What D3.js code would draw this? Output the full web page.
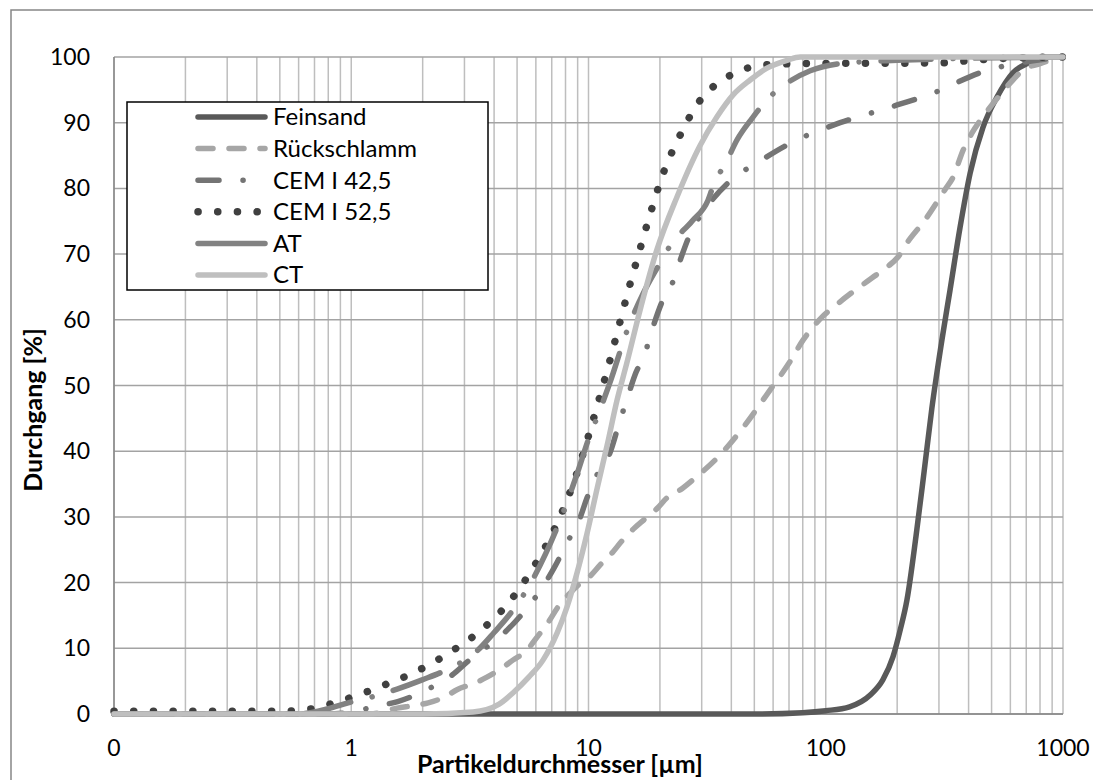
<!DOCTYPE html>
<html><head><meta charset="utf-8">
<script src="https://cdn.jsdelivr.net/npm/d3@7"></script>
<style>body{margin:0;background:#fff;} svg{display:block;} text{font-family:Lato,"Open Sans",sans-serif;}</style>
</head><body>
<svg id="chart" width="1093" height="780"></svg>
<script>
// ---- data (particle size in µm, passing in %) ----
const feinsandX = [0.1,50,80,100,126,154,174,192,206,220,240,260,280,309,334,368,406,460,527,615,726,824,1000];
const feinsandY = [0,0,0.2,0.5,1.1,2.9,5.2,8.7,12.8,17.4,27,37,46.5,57,64.5,74,82.3,89.3,93.9,97.6,99.2,100,100];

const rueckX = [0.1,1.2,1.56,1.86,2.11,2.48,2.79,3.32,3.73,4.32,4.8,5.5,6.07,6.75,7.44,8.36,9.04,10.1,11.2,12.7,13.8,15.4,17.3,19.6,21.4,25,28.1,35.8,45.7,58.2,70.6,80.2,96.4,111,157,181,202,220,262,318,344,379,413,460,542,615,678,800,1000];
const rueckY = [0,0,0.9,1.3,1.7,2.6,3.7,4.7,5.6,7,8.2,9.7,11.7,13.9,16.3,18.4,19.6,20.9,22.7,24.7,26.3,28.1,29.7,31.4,32.9,34.4,35.9,39.4,44,49.3,53.6,56.9,60.4,62.3,66.4,68,69.6,71.7,75.2,79.8,81.7,85.8,88.4,90.9,94.2,96.5,98,99,100];

const cem42X = [0.1,0.8,1,1.28,1.57,2.08,2.7,3.1,3.73,4.55,5.5,6.4,7.2,8.1,9.2,9.86,11,12.3,13.4,14.5,15.7,17.3,18.7,20.4,22.7,24.8,27.3,30.4,40,52,67,115,150,200,270,455,1000];
const cem42Y = [0,0,0.3,1.2,1.9,3.7,6.1,8,10.2,12.8,16.1,19.3,22.4,26,29.8,32.9,36.8,39.7,44,47.8,51.6,54.9,58.9,62.7,65.8,69.9,73.7,76.4,81.3,84,86.4,90,91.3,92.7,94.2,97.7,100];

const cem52X = [0.1,0.5,0.63,0.92,1.31,1.86,2.61,3.56,4.67,5.83,7.02,8,9,9.86,10.96,12.2,13.4,14.8,16.5,18.3,20.6,24.1,29,38.7,56,80,300,390,500,1000];
const cem52Y = [0.4,0.4,0.6,2.1,4.1,6.4,9.4,12.9,17.2,22.2,27.4,32,37,41.6,47.3,53.3,58.9,64.8,70.8,76.4,82.2,87.8,93,97,98.8,99,99.1,99.4,99.7,100];

const atX = [0.1,0.6,0.8,0.97,1.22,1.56,1.99,2.48,3.39,4,4.8,5.7,6.6,7.4,9,9.86,11.1,12.3,14.7,17,19.4,22.5,27.3,31.9,33.5,38.4,42.3,49,58,68.5,86,115,200,1000];
const atY = [0,0,0.8,1.7,2.6,3.8,5.2,6.6,9.6,12.4,15.8,19.9,24.4,28.5,36.8,41.2,46,50.4,58.8,64,67.8,71.7,75,78.2,80.3,84.3,87.4,90.7,93.9,96,97.9,99,99.5,100];

const ctX = [0.1,2,3.26,4.2,4.8,5.6,6.43,7.37,8.12,8.95,9.86,10.9,12,13.2,14.5,16.5,19.4,23.6,29.5,34.8,40.6,48,56.5,68.7,78,1000];
const ctY = [0,0,0.3,1.5,3.2,5.6,8.2,12.3,16.3,21.5,27.5,34.5,41,47.8,53.4,61.5,70.6,78.7,86.5,90.9,94.2,96.5,98.3,99.5,100,100];

const seriesNames = ["Feinsand","Rückschlamm","CEM I 42,5","CEM I 52,5","AT","CT"];
const xTickValues = [0.1,1,10,100,1000];
const xTickLabels = ["0","1","10","100","1000"];
const yTickValues = [0,10,20,30,40,50,60,70,80,90,100];
const xTitle = "Partikeldurchmesser [µm]";
const yTitle = "Durchgang [%]";

// ---- styles ----
const styles = [
  {color:"#595959", width:5.5, dash:null, legendDash:null},
  {color:"#a6a6a6", width:5.5, dash:"15 16", legendDash:"15 16"},
  {color:"#747474", width:5.5, dash:"21 24 0.1 24", legendDash:"21 24 0.1 24"},
  {color:"#404040", width:7.5, dash:"0.1 19.6", legendDash:"0.1 19.6"},
  {color:"#828282", width:5.5, dash:"50 22 0.1 22", legendDash:null},
  {color:"#bfbfbf", width:5.5, dash:null, legendDash:null}
];
const seriesData = [
  [feinsandX, feinsandY],[rueckX, rueckY],[cem42X, cem42Y],[cem52X, cem52Y],[atX, atY],[ctX, ctY]
];

const svg = d3.select("#chart");
const L = 114, R = 1063, T = 57, B = 714;
const x = d3.scaleLog().domain([0.1,1000]).range([L,R]);
const y = d3.scaleLinear().domain([0,100]).range([B,T]);

// outer chart border
svg.append("rect").attr("x",11).attr("y",10).attr("width",1100).attr("height",800)
  .attr("fill","#fff").attr("stroke","#868686").attr("stroke-width",1.5);

// vertical grid (major + minor)
const vTicks = [];
[0.1,1,10,100].forEach(d => { for (let k=1;k<=9;k++) vTicks.push(d*k); });
vTicks.push(1000);
svg.append("g").selectAll("line").data(vTicks).join("line")
  .attr("x1",d=>x(d)).attr("x2",d=>x(d)).attr("y1",T).attr("y2",B)
  .attr("stroke","#bebebe").attr("stroke-width",1.5);
// horizontal grid
svg.append("g").selectAll("line").data(yTickValues).join("line")
  .attr("x1",L).attr("x2",R).attr("y1",d=>y(d)).attr("y2",d=>y(d))
  .attr("stroke","#a3a3a3").attr("stroke-width",1.5);
// axis line
svg.append("line").attr("x1",L).attr("x2",R).attr("y1",B).attr("y2",B).attr("stroke","#868686").attr("stroke-width",1.5);
svg.append("line").attr("x1",L).attr("x2",L).attr("y1",T).attr("y2",B).attr("stroke","#868686").attr("stroke-width",1.5);

// tick labels
svg.append("g").selectAll("text").data(yTickValues).join("text")
  .attr("x",90).attr("y",d=>y(d)).attr("dy","0.35em").attr("text-anchor","end")
  .attr("font-size",23).attr("fill","#000").text(d=>d);
svg.append("g").selectAll("text").data(xTickValues).join("text")
  .attr("x",d=>x(d)).attr("y",748).attr("dy","0.35em").attr("text-anchor","middle")
  .attr("font-size",23).attr("fill","#000").text((d,i)=>xTickLabels[i]);

// lines
const line = d3.line().x(d=>x(d[0])).y(d=>y(d[1])).curve(d3.curveMonotoneX);
seriesData.forEach((s,i) => {
  const pts = s[0].map((v,j)=>[v, s[1][j]]);
  const st = styles[i];
  svg.append("path").datum(pts).attr("d",line)
    .attr("fill","none").attr("stroke",st.color).attr("stroke-width",st.width)
    .attr("stroke-linecap","round").attr("stroke-linejoin","round")
    .attr("stroke-dasharray",st.dash);
});

// axis titles
svg.append("text").attr("x",417).attr("y",764).attr("dy","0.35em")
  .attr("font-size",25).attr("font-weight","bold").attr("fill","#000").text(xTitle);
svg.append("text").attr("transform","translate(33,410) rotate(-90)").attr("dy","0.35em")
  .attr("text-anchor","middle").attr("font-size",25).attr("font-weight","bold").attr("fill","#000").text(yTitle);

// legend
const lg = svg.append("g");
lg.append("rect").attr("x",127).attr("y",102).attr("width",361).attr("height",188)
  .attr("fill","#fff").attr("stroke","#000").attr("stroke-width",1.5);
seriesNames.forEach((n,i) => {
  const cy = 117 + i*31.6;
  const st = styles[i];
  lg.append("line").attr("x1",198).attr("x2",265).attr("y1",cy).attr("y2",cy)
    .attr("stroke",st.color).attr("stroke-width",st.width).attr("stroke-linecap","round")
    .attr("stroke-dasharray",st.legendDash);
  lg.append("text").attr("x",273).attr("y",cy).attr("dy","0.35em")
    .attr("font-size",24).attr("fill","#000").text(n);
});
</script>
</body></html>
